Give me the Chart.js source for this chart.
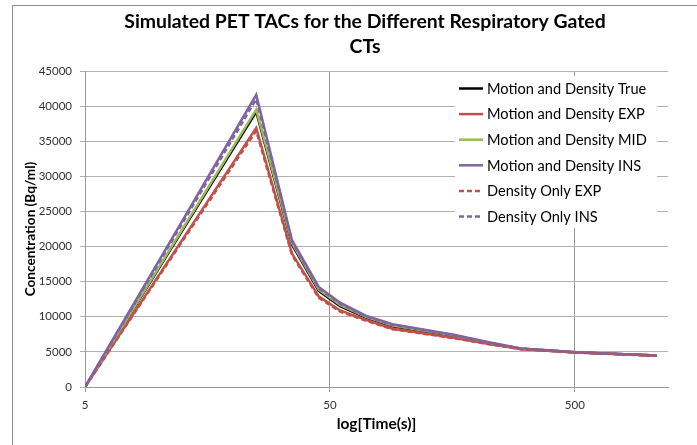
<!DOCTYPE html>
<html>
<head>
<meta charset="utf-8">
<script src="https://cdn.jsdelivr.net/npm/chart.js@4"></script>
<style>
  html, body { margin: 0; padding: 0; background: #ffffff; }
  #wrap { width: 697px; height: 445px; position: relative; }
</style>
</head>
<body>
<div id="wrap"><canvas id="c" width="697" height="445"></canvas></div>
<script>
// ---- data ----
const times = [5, 25, 35, 45, 55, 70, 90, 120, 160, 220, 300, 400, 500, 700, 1080];
const seriesLabels = [
  'Motion and Density True',
  'Motion and Density EXP',
  'Motion and Density MID',
  'Motion and Density INS',
  'Density Only EXP',
  'Density Only INS'
];
const mdTrue = [0, 39200, 20300, 13700, 11500, 9900, 8650, 7950, 7250, 6280, 5450, 5160, 4940, 4730, 4480];
const mdExp  = [0, 36900, 19000, 12900, 10900, 9550, 8300, 7650, 7000, 6150, 5400, 5120, 4930, 4720, 4450];
const mdMid  = [0, 39500, 20500, 13850, 11700, 10000, 8750, 8050, 7350, 6330, 5480, 5180, 4950, 4740, 4490];
const mdIns  = [0, 41600, 20900, 14250, 12000, 10150, 8950, 8200, 7450, 6400, 5500, 5200, 4960, 4750, 4500];
const doExp  = [0, 36500, 18800, 12700, 10750, 9450, 8220, 7600, 6960, 6120, 5380, 5110, 4920, 4710, 4440];
const doIns  = [0, 41000, 20700, 14050, 11850, 10050, 8850, 8120, 7400, 6360, 5490, 5190, 4955, 4745, 4495];
const xTicks = [5, 50, 500];
const yTicks = [0, 5000, 10000, 15000, 20000, 25000, 30000, 35000, 40000, 45000];
const titleLines = ['Simulated PET TACs for the Different Respiratory Gated', 'CTs'];
const xTitle = 'log[Time(s)]';
const yTitle = 'Concentration (Bq/ml)';

// ---- styles ----
const values = [mdTrue, mdExp, mdMid, mdIns, doExp, doIns];
const colors = ['#000000', '#C0504D', '#9BBB59', '#8064A2', '#C0504D', '#8064A2'];
const dashes = [[], [], [], [], [5, 3], [5, 3]];
const FONT = 'Lato, "Liberation Sans", sans-serif';

const datasets = values.map((vals, i) => ({
  label: seriesLabels[i],
  data: vals.map((v, k) => ({ x: times[k], y: v })),
  borderColor: colors[i],
  backgroundColor: colors[i],
  borderWidth: 2.5,
  borderDash: dashes[i],
  pointRadius: 0,
  tension: 0,
  fill: false,
  order: values.length - i
}));

const frame = {
  id: 'frame',
  beforeDraw(chart) {
    const ctx = chart.ctx;
    ctx.save();
    ctx.fillStyle = '#ffffff';
    ctx.fillRect(0, 0, chart.width, chart.height);
    ctx.strokeStyle = '#8e8e8e';
    ctx.lineWidth = 1;
    ctx.beginPath();
    ctx.moveTo(12.5, chart.height);
    ctx.lineTo(12.5, 5.5);
    ctx.lineTo(chart.width, 5.5);
    ctx.stroke();
    ctx.restore();
  },
  afterDraw(chart) {
    const ctx = chart.ctx;
    ctx.save();
    ctx.fillStyle = '#000000';
    ctx.font = 'bold 19.4px ' + FONT;
    ctx.textAlign = 'center';
    ctx.textBaseline = 'middle';
    titleLines.forEach((t, i) => ctx.fillText(t, 365, 22 + i * 25));
    ctx.restore();
  }
};

const legendBox = {
  id: 'legendBox',
  afterDraw(chart) {
    const ctx = chart.ctx;
    ctx.save();
    ctx.fillStyle = '#ffffff';
    ctx.fillRect(455, 76, 202, 152);
    ctx.font = '14.6px ' + FONT;
    ctx.textBaseline = 'middle';
    ctx.textAlign = 'left';
    seriesLabels.forEach((lab, i) => {
      const y = 88.5 + i * 25.6;
      ctx.strokeStyle = colors[i];
      ctx.lineWidth = 2.5;
      ctx.setLineDash(dashes[i]);
      ctx.beginPath();
      ctx.moveTo(459, y);
      ctx.lineTo(483, y);
      ctx.stroke();
      ctx.setLineDash([]);
      ctx.fillStyle = '#000000';
      ctx.fillText(lab, 487, y + 0.5);
    });
    ctx.restore();
  }
};

new Chart(document.getElementById('c'), {
  type: 'line',
  data: { datasets },
  options: {
    responsive: false,
    animation: false,
    devicePixelRatio: 1,
    layout: { padding: { left: 12, right: 29, top: 71, bottom: 0 } },
    plugins: {
      legend: { display: false },
      tooltip: { enabled: false },
      title: { display: false }
    },
    scales: {
      x: {
        type: 'logarithmic',
        min: 5,
        max: 1200,
        bounds: 'data',
        afterBuildTicks(scale) { scale.ticks = xTicks.map(v => ({ value: v })); },
        afterFit(scale) { scale.height = 58; },
        ticks: {
          autoSkip: false,
          maxRotation: 0,
          color: '#333333',
          font: { family: FONT, size: 11.5 },
          padding: 6,
          callback: (v) => String(v)
        },
        grid: { color: '#9a9a9a', lineWidth: 1, tickLength: 5, drawTicks: true },
        border: { color: '#9a9a9a', width: 1 },
        title: {
          display: true,
          text: xTitle,
          color: '#000000',
          font: { family: FONT, size: 15.5, weight: 'bold', lineHeight: 1.2 },
          padding: { top: 0, bottom: 12 }
        }
      },
      y: {
        type: 'linear',
        min: 0,
        max: 45000,
        afterBuildTicks(scale) { scale.ticks = yTicks.map(v => ({ value: v })); },
        afterFit(scale) { scale.width = 73; },
        ticks: {
          color: '#333333',
          font: { family: FONT, size: 11.5 },
          padding: 8,
          callback: (v) => String(v)
        },
        grid: { color: '#b0b0b0', lineWidth: 1, tickLength: 5, drawTicks: true },
        border: { color: '#9a9a9a', width: 1 },
        title: {
          display: true,
          text: yTitle,
          color: '#000000',
          font: { family: FONT, size: 13.6, weight: 'bold', lineHeight: 1.2 },
          padding: { top: 10, bottom: 0 }
        }
      }
    }
  },
  plugins: [frame, legendBox]
});
</script>
</body>
</html>
